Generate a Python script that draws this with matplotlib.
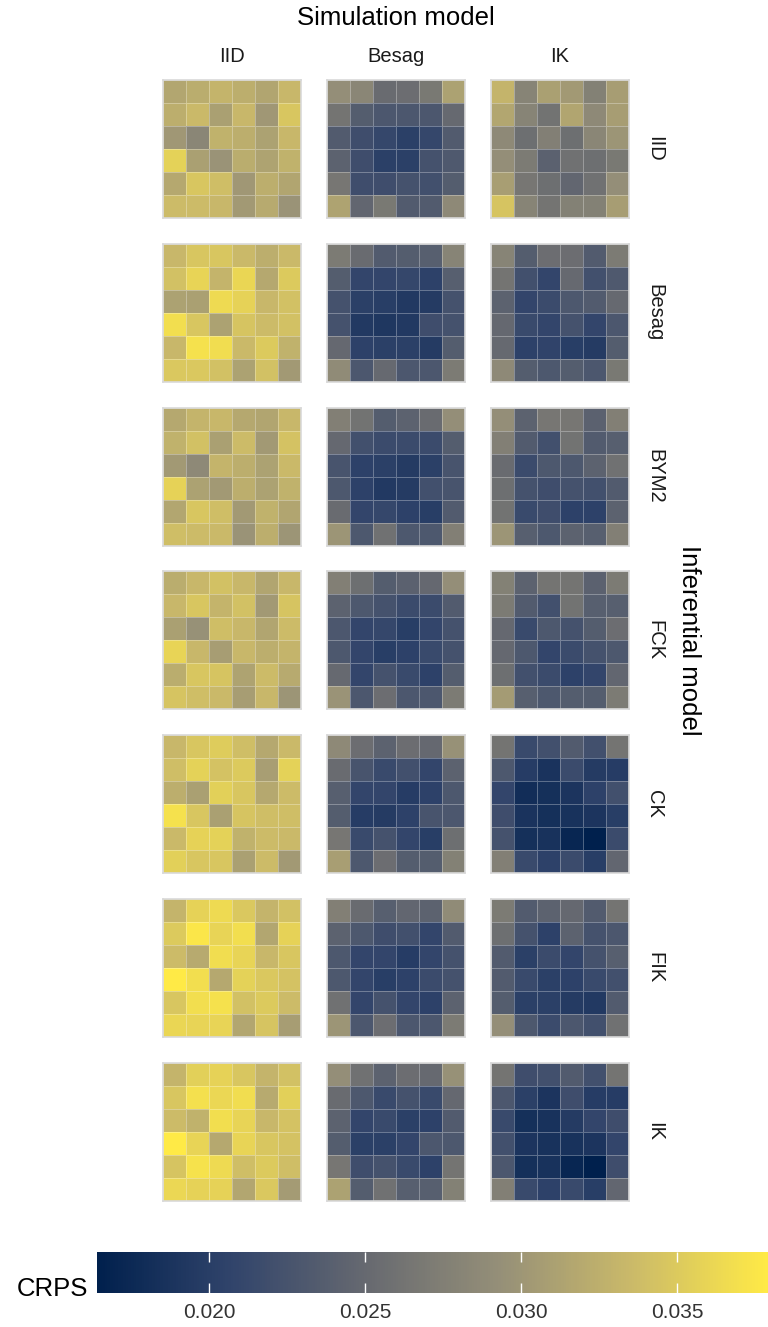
import numpy as np
import matplotlib
matplotlib.use("Agg")
import matplotlib.pyplot as plt
from matplotlib.colors import Normalize, LinearSegmentedColormap
from matplotlib.cm import ScalarMappable

plt.rcParams["font.family"] = ["Liberation Sans", "DejaVu Sans"]

sim_models = ["IID", "Besag", "IK"]
inf_models = ["IID", "Besag", "BYM2", "FCK", "CK", "FIK", "IK"]
crps_ticks = [0.020, 0.025, 0.030, 0.035]

# CRPS per 6x6 grid cell, rows listed top to bottom
# inferential model IID
iid_iid = [[0.0316, 0.0322, 0.0330, 0.0324, 0.0315, 0.0333],
           [0.0324, 0.0335, 0.0310, 0.0333, 0.0301, 0.0347],
           [0.0301, 0.0283, 0.0327, 0.0324, 0.0311, 0.0333],
           [0.0357, 0.0310, 0.0297, 0.0322, 0.0313, 0.0327],
           [0.0318, 0.0347, 0.0339, 0.0301, 0.0324, 0.0315],
           [0.0337, 0.0337, 0.0333, 0.0303, 0.0320, 0.0297]]
iid_besag = [[0.0292, 0.0283, 0.0253, 0.0255, 0.0268, 0.0311],
             [0.0263, 0.0236, 0.0229, 0.0229, 0.0229, 0.0250],
             [0.0234, 0.0218, 0.0211, 0.0202, 0.0211, 0.0234],
             [0.0242, 0.0218, 0.0202, 0.0202, 0.0223, 0.0232],
             [0.0265, 0.0218, 0.0218, 0.0223, 0.0221, 0.0236],
             [0.0313, 0.0247, 0.0268, 0.0234, 0.0234, 0.0286]]
iid_ik = [[0.0330, 0.0280, 0.0310, 0.0303, 0.0277, 0.0307],
          [0.0316, 0.0280, 0.0261, 0.0315, 0.0286, 0.0307],
          [0.0286, 0.0257, 0.0275, 0.0257, 0.0283, 0.0299],
          [0.0292, 0.0270, 0.0241, 0.0259, 0.0257, 0.0268],
          [0.0308, 0.0265, 0.0257, 0.0247, 0.0259, 0.0292],
          [0.0345, 0.0280, 0.0263, 0.0277, 0.0277, 0.0307]]
# inferential model Besag
besag_iid = [[0.0333, 0.0347, 0.0347, 0.0335, 0.0324, 0.0335],
             [0.0342, 0.0359, 0.0330, 0.0361, 0.0318, 0.0350],
             [0.0311, 0.0310, 0.0364, 0.0358, 0.0333, 0.0342],
             [0.0368, 0.0347, 0.0311, 0.0345, 0.0337, 0.0342],
             [0.0333, 0.0370, 0.0367, 0.0335, 0.0350, 0.0327],
             [0.0348, 0.0348, 0.0342, 0.0311, 0.0342, 0.0303]]
besag_besag = [[0.0270, 0.0253, 0.0234, 0.0236, 0.0238, 0.0280],
               [0.0236, 0.0209, 0.0209, 0.0211, 0.0204, 0.0238],
               [0.0223, 0.0202, 0.0200, 0.0194, 0.0196, 0.0223],
               [0.0223, 0.0194, 0.0191, 0.0194, 0.0218, 0.0223],
               [0.0249, 0.0204, 0.0202, 0.0202, 0.0196, 0.0236],
               [0.0289, 0.0229, 0.0250, 0.0229, 0.0229, 0.0270]]
besag_ik = [[0.0280, 0.0236, 0.0255, 0.0255, 0.0234, 0.0270],
            [0.0263, 0.0221, 0.0209, 0.0250, 0.0221, 0.0232],
            [0.0242, 0.0209, 0.0216, 0.0230, 0.0234, 0.0250],
            [0.0249, 0.0214, 0.0209, 0.0223, 0.0209, 0.0229],
            [0.0250, 0.0204, 0.0206, 0.0200, 0.0196, 0.0236],
            [0.0286, 0.0236, 0.0230, 0.0236, 0.0229, 0.0268]]
# inferential model BYM2
bym2_iid = [[0.0318, 0.0330, 0.0333, 0.0318, 0.0315, 0.0333],
            [0.0327, 0.0342, 0.0310, 0.0337, 0.0303, 0.0343],
            [0.0303, 0.0286, 0.0330, 0.0324, 0.0311, 0.0335],
            [0.0358, 0.0311, 0.0303, 0.0324, 0.0311, 0.0327],
            [0.0316, 0.0347, 0.0339, 0.0303, 0.0327, 0.0315],
            [0.0339, 0.0337, 0.0335, 0.0297, 0.0324, 0.0299]]
bym2_besag = [[0.0275, 0.0261, 0.0236, 0.0242, 0.0253, 0.0292],
              [0.0249, 0.0221, 0.0216, 0.0216, 0.0216, 0.0236],
              [0.0226, 0.0204, 0.0202, 0.0196, 0.0202, 0.0226],
              [0.0230, 0.0204, 0.0194, 0.0196, 0.0221, 0.0226],
              [0.0253, 0.0209, 0.0211, 0.0204, 0.0200, 0.0234],
              [0.0299, 0.0230, 0.0259, 0.0230, 0.0230, 0.0275]]
bym2_ik = [[0.0292, 0.0242, 0.0265, 0.0265, 0.0241, 0.0275],
           [0.0275, 0.0234, 0.0221, 0.0261, 0.0234, 0.0238],
           [0.0253, 0.0216, 0.0230, 0.0230, 0.0242, 0.0259],
           [0.0257, 0.0223, 0.0218, 0.0223, 0.0221, 0.0234],
           [0.0261, 0.0214, 0.0218, 0.0204, 0.0204, 0.0242],
           [0.0299, 0.0238, 0.0230, 0.0242, 0.0238, 0.0275]]
# inferential model FCK
fck_iid = [[0.0322, 0.0333, 0.0342, 0.0333, 0.0315, 0.0333],
           [0.0333, 0.0347, 0.0330, 0.0342, 0.0303, 0.0345],
           [0.0310, 0.0295, 0.0339, 0.0333, 0.0315, 0.0337],
           [0.0359, 0.0333, 0.0307, 0.0333, 0.0324, 0.0330],
           [0.0322, 0.0347, 0.0345, 0.0313, 0.0337, 0.0320],
           [0.0345, 0.0339, 0.0335, 0.0307, 0.0333, 0.0299]]
fck_besag = [[0.0275, 0.0257, 0.0236, 0.0241, 0.0249, 0.0292],
             [0.0242, 0.0230, 0.0223, 0.0216, 0.0216, 0.0234],
             [0.0229, 0.0209, 0.0211, 0.0200, 0.0209, 0.0223],
             [0.0230, 0.0209, 0.0200, 0.0204, 0.0214, 0.0223],
             [0.0250, 0.0209, 0.0223, 0.0214, 0.0204, 0.0236],
             [0.0297, 0.0229, 0.0255, 0.0229, 0.0229, 0.0270]]
fck_ik = [[0.0277, 0.0242, 0.0263, 0.0263, 0.0241, 0.0270],
          [0.0270, 0.0234, 0.0221, 0.0261, 0.0238, 0.0238],
          [0.0249, 0.0214, 0.0230, 0.0223, 0.0236, 0.0255],
          [0.0249, 0.0230, 0.0209, 0.0216, 0.0223, 0.0230],
          [0.0257, 0.0221, 0.0216, 0.0204, 0.0209, 0.0247],
          [0.0305, 0.0238, 0.0230, 0.0236, 0.0236, 0.0270]]
# inferential model CK
ck_iid = [[0.0333, 0.0347, 0.0352, 0.0339, 0.0318, 0.0335],
          [0.0339, 0.0357, 0.0343, 0.0350, 0.0308, 0.0357],
          [0.0324, 0.0310, 0.0355, 0.0347, 0.0318, 0.0337],
          [0.0370, 0.0347, 0.0310, 0.0345, 0.0339, 0.0339],
          [0.0335, 0.0358, 0.0357, 0.0327, 0.0337, 0.0335],
          [0.0355, 0.0347, 0.0347, 0.0310, 0.0337, 0.0303]]
ck_besag = [[0.0286, 0.0255, 0.0242, 0.0255, 0.0249, 0.0295],
            [0.0253, 0.0226, 0.0214, 0.0221, 0.0209, 0.0242],
            [0.0238, 0.0209, 0.0209, 0.0198, 0.0204, 0.0230],
            [0.0236, 0.0198, 0.0196, 0.0204, 0.0226, 0.0229],
            [0.0265, 0.0214, 0.0223, 0.0209, 0.0200, 0.0257],
            [0.0308, 0.0230, 0.0255, 0.0236, 0.0236, 0.0277]]
ck_ik = [[0.0263, 0.0214, 0.0221, 0.0234, 0.0221, 0.0263],
         [0.0230, 0.0198, 0.0187, 0.0216, 0.0196, 0.0198],
         [0.0209, 0.0180, 0.0183, 0.0189, 0.0204, 0.0221],
         [0.0218, 0.0187, 0.0183, 0.0185, 0.0189, 0.0200],
         [0.0223, 0.0183, 0.0185, 0.0171, 0.0164, 0.0216],
         [0.0275, 0.0214, 0.0204, 0.0216, 0.0200, 0.0247]]
# inferential model FIK
fik_iid = [[0.0330, 0.0358, 0.0364, 0.0348, 0.0330, 0.0342],
           [0.0350, 0.0375, 0.0359, 0.0368, 0.0316, 0.0358],
           [0.0337, 0.0320, 0.0367, 0.0359, 0.0333, 0.0347],
           [0.0379, 0.0368, 0.0318, 0.0357, 0.0348, 0.0343],
           [0.0347, 0.0368, 0.0370, 0.0342, 0.0350, 0.0337],
           [0.0361, 0.0359, 0.0359, 0.0316, 0.0345, 0.0307]]
fik_besag = [[0.0275, 0.0253, 0.0238, 0.0247, 0.0242, 0.0289],
             [0.0242, 0.0230, 0.0218, 0.0221, 0.0209, 0.0234],
             [0.0230, 0.0209, 0.0209, 0.0198, 0.0209, 0.0223],
             [0.0230, 0.0209, 0.0200, 0.0204, 0.0216, 0.0223],
             [0.0259, 0.0209, 0.0223, 0.0209, 0.0204, 0.0242],
             [0.0299, 0.0229, 0.0255, 0.0229, 0.0229, 0.0270]]
fik_ik = [[0.0270, 0.0234, 0.0242, 0.0249, 0.0234, 0.0263],
          [0.0257, 0.0223, 0.0204, 0.0242, 0.0223, 0.0229],
          [0.0234, 0.0202, 0.0216, 0.0209, 0.0223, 0.0238],
          [0.0234, 0.0214, 0.0202, 0.0204, 0.0214, 0.0221],
          [0.0236, 0.0202, 0.0202, 0.0196, 0.0194, 0.0234],
          [0.0292, 0.0230, 0.0216, 0.0229, 0.0221, 0.0259]]
# inferential model IK
ik_iid = [[0.0330, 0.0355, 0.0358, 0.0347, 0.0330, 0.0342],
          [0.0347, 0.0369, 0.0362, 0.0367, 0.0320, 0.0355],
          [0.0337, 0.0327, 0.0368, 0.0359, 0.0333, 0.0343],
          [0.0379, 0.0359, 0.0318, 0.0359, 0.0347, 0.0343],
          [0.0345, 0.0371, 0.0364, 0.0339, 0.0350, 0.0339],
          [0.0362, 0.0358, 0.0358, 0.0316, 0.0348, 0.0305]]
ik_besag = [[0.0292, 0.0259, 0.0242, 0.0255, 0.0250, 0.0295],
            [0.0253, 0.0230, 0.0214, 0.0223, 0.0214, 0.0249],
            [0.0242, 0.0209, 0.0214, 0.0202, 0.0204, 0.0234],
            [0.0236, 0.0202, 0.0202, 0.0209, 0.0229, 0.0230],
            [0.0265, 0.0218, 0.0223, 0.0214, 0.0204, 0.0263],
            [0.0311, 0.0236, 0.0259, 0.0238, 0.0238, 0.0277]]
ik_ik = [[0.0263, 0.0218, 0.0221, 0.0234, 0.0221, 0.0263],
         [0.0229, 0.0202, 0.0189, 0.0218, 0.0198, 0.0198],
         [0.0214, 0.0183, 0.0185, 0.0196, 0.0209, 0.0218],
         [0.0221, 0.0189, 0.0185, 0.0185, 0.0189, 0.0209],
         [0.0229, 0.0183, 0.0185, 0.0171, 0.0164, 0.0218],
         [0.0275, 0.0214, 0.0204, 0.0214, 0.0200, 0.0247]]

grids = [
    [iid_iid, iid_besag, iid_ik],
    [besag_iid, besag_besag, besag_ik],
    [bym2_iid, bym2_besag, bym2_ik],
    [fck_iid, fck_besag, fck_ik],
    [ck_iid, ck_besag, ck_ik],
    [fik_iid, fik_besag, fik_ik],
    [ik_iid, ik_besag, ik_ik],
]

all_vals = np.concatenate([np.ravel(g) for row in grids for g in row])
norm = Normalize(vmin=all_vals.min(), vmax=all_vals.max())
# six-stop cividis gradient
cmap = LinearSegmentedColormap.from_list(
    "cividis6", ["#00204D", "#31446B", "#666970", "#958F78", "#CBBA69", "#FFEA46"])

W, H = 768, 1327
fig = plt.figure(figsize=(W / 100, H / 100), dpi=100)


def axes_px(x, y, w, h):
    return fig.add_axes([x / W, 1 - (y + h) / H, w / W, h / H])


col_x = [163, 327, 491]
row_y = [80 + 163.8 * i for i in range(7)]
size = 138
text_col = "#1a1a1a"

for i, inf in enumerate(inf_models):
    for j, sim in enumerate(sim_models):
        ax = axes_px(col_x[j], row_y[i], size, size)
        data = np.asarray(grids[i][j])
        ax.pcolormesh(data, cmap=cmap, norm=norm,
                      edgecolors=(1, 1, 1, 0.3), linewidth=0.6)
        ax.set_xlim(0, 6)
        ax.set_ylim(6, 0)
        ax.set_xticks([])
        ax.set_yticks([])
        for sp in ax.spines.values():
            sp.set_color("#d9d9d9")
            sp.set_linewidth(1.2)
        if i == 0:
            fig.text((col_x[j] + size / 2) / W, 1 - 56 / H, sim,
                     ha="center", va="center", fontsize=14.5, color=text_col)
        if j == 2:
            fig.text(655 / W, 1 - (row_y[i] + size / 2) / H, inf,
                     ha="center", va="center", rotation=-90,
                     fontsize=14.5, color=text_col)

fig.text((col_x[0] + col_x[2] + size) / 2 / W, 1 - 18 / H, "Simulation model",
         ha="center", va="center", fontsize=18.5, color="black")
fig.text(689 / W, 1 - (row_y[0] + row_y[-1] + size) / 2 / H, "Inferential model",
         ha="center", va="center", rotation=-90, fontsize=18.5, color="black")

# colour bar
cax = axes_px(97, 1252, 671, 41)
cb = fig.colorbar(ScalarMappable(norm=norm, cmap=cmap), cax=cax,
                  orientation="horizontal")
cb.outline.set_visible(False)
cb.set_ticks(crps_ticks)
cb.set_ticklabels([f"{t:.3f}" for t in crps_ticks])
cax.xaxis.set_ticks_position("both")
cax.tick_params(axis="x", direction="in", length=7, width=1, color="white",
                labelsize=15, labelcolor="#333333", pad=7,
                labeltop=False, labelbottom=True)
fig.text(52 / W, 1 - 1289 / H, "CRPS", ha="center", va="center",
         fontsize=18.5, color="black")

fig.savefig("out.png", dpi=100)
